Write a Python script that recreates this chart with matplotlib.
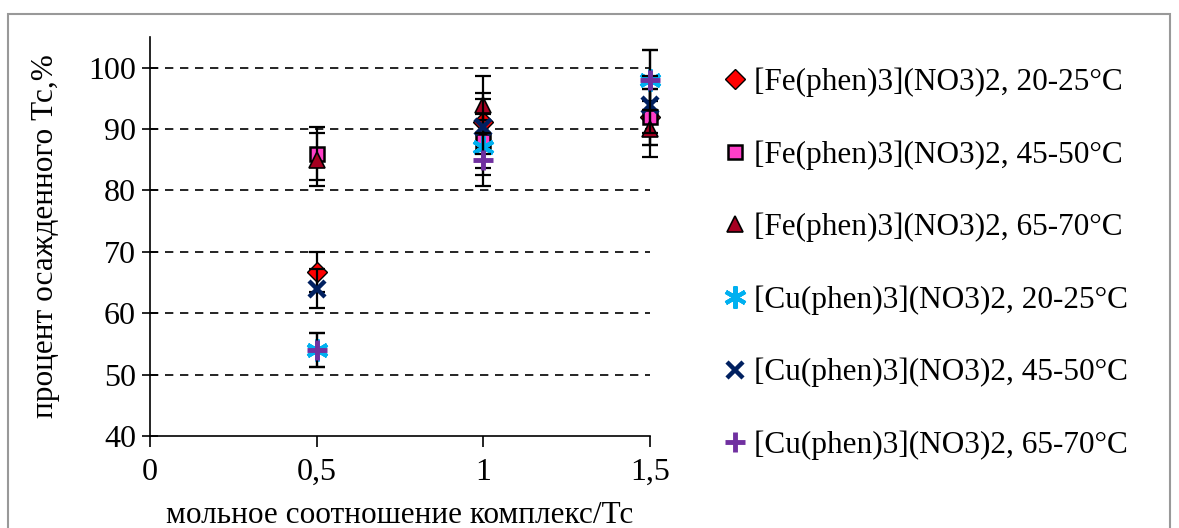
import matplotlib
matplotlib.use('Agg')
import matplotlib.pyplot as plt
from matplotlib.patches import Rectangle
from matplotlib.ticker import FuncFormatter

plt.rcParams['font.family'] = ['Liberation Serif', 'DejaVu Serif']

# ----- data -----
ratios = [0.5, 1.0, 1.5]

labels = ['[Fe(phen)3](NO3)2, 20-25°C', '[Fe(phen)3](NO3)2, 45-50°C',
          '[Fe(phen)3](NO3)2, 65-70°C', '[Cu(phen)3](NO3)2, 20-25°C',
          '[Cu(phen)3](NO3)2, 45-50°C', '[Cu(phen)3](NO3)2, 65-70°C']

fe_20 = [66.7, 91.2, 92.0]
fe_45 = [86.0, 88.0, 92.0]
fe_65 = [85.0, 94.0, 90.0]
cu_20 = [54.0, 87.0, 98.0]
cu_45 = [64.0, 90.4, 94.0]
cu_65 = [54.0, 85.0, 98.0]

fe_20_err = [3.3, 4.6, 4.6]
fe_45_err = [4.3, 4.4, 4.6]
fe_65_err = [4.3, 4.7, 4.5]
cu_20_err = [2.7, 4.4, 4.9]
cu_45_err = [3.2, 4.5, 4.7]
cu_65_err = [2.7, 4.3, 4.9]

series = [fe_20, fe_45, fe_65, cu_20, cu_45, cu_65]
errors = [fe_20_err, fe_45_err, fe_65_err, cu_20_err, cu_45_err, cu_65_err]

styles = [
    dict(marker='D', color='#FF0000', mec='black', ms=10, mew=1.0),
    dict(marker='s', color='#FF3FC8', mec='black', ms=10, mew=1.8),
    dict(marker='^', color='#A50021', mec='black', ms=12, mew=1.2),
    dict(marker=(6, 2, 0), color='#00B0F0', mec='#00B0F0', ms=16, mew=3.0),
    dict(marker='x', color='#002060', mec='#002060', ms=12, mew=3.2),
    dict(marker='+', color='#7030A0', mec='#7030A0', ms=15, mew=3.5),
]

fig = plt.figure(figsize=(11.79, 5.28), dpi=100)
ax = fig.add_axes([150 / 1179, 1 - 436 / 528, 500 / 1179, (436 - 37) / 528])

for vals, err, st, lab in zip(series, errors, styles, labels):
    eb = ax.errorbar(ratios, vals, yerr=err, fmt='none', ecolor='black',
                     elinewidth=1.6, capsize=6, capthick=1.6)
    for art in eb.lines[1] + eb.lines[2]:
        art.set_clip_on(False)
    ax.plot(ratios, vals, linestyle='none', label=lab, clip_on=False, **st)

ax.set_xlim(0, 1.5)
ax.set_ylim(40, 105)
ax.set_xticks([0, 0.5, 1, 1.5])
ax.set_yticks(range(40, 101, 10))
ax.xaxis.set_major_formatter(FuncFormatter(lambda v, p: ('%g' % v).replace('.', ',')))

for y in range(50, 101, 10):
    ax.axhline(y, color='black', linestyle=(0, (5, 4)), linewidth=1.2, zorder=0)

ax.spines['top'].set_visible(False)
ax.spines['right'].set_visible(False)
ax.spines['left'].set_linewidth(1.2)
ax.spines['bottom'].set_linewidth(1.2)
ax.tick_params(axis='y', direction='inout', length=12, width=1.2, labelsize=23, pad=4)
ax.tick_params(axis='x', direction='out', length=8, width=1.2, labelsize=23, pad=8)

ax.set_ylabel('процент осажденного Тс,%', fontsize=22.5, labelpad=20)
ax.set_xlabel('мольное соотношение комплекс/Тс', fontsize=22.5, labelpad=10)

ax.legend(loc='upper left', bbox_to_anchor=(1.127, 0.955), frameon=False,
          fontsize=22.5, handlelength=0.6, handletextpad=0.3, labelspacing=1.38,
          borderaxespad=0)

fig.patches.append(Rectangle((8 / 1179, -0.02), 1162 / 1179, 1.02 - 14 / 528,
                             transform=fig.transFigure, fill=False,
                             edgecolor='#999999', linewidth=1.5))

fig.savefig('out.png', dpi=100)
